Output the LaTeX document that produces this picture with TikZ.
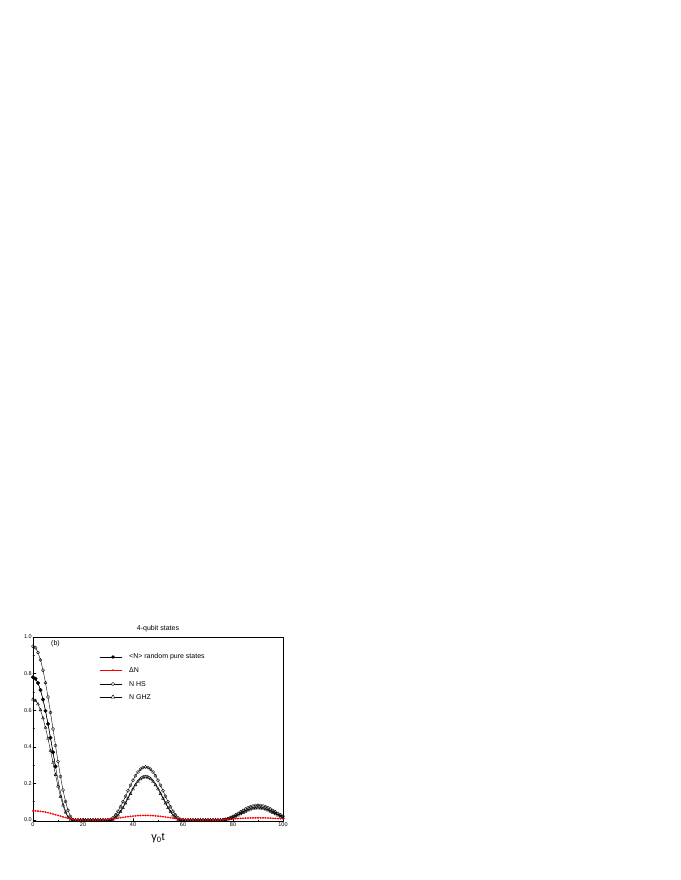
\documentclass[tikz,border=0pt]{standalone}
\usepackage{fontspec}
\setmainfont{Liberation Sans}
\usetikzlibrary{plotmarks,shapes.geometric}
\tikzset{
  declare function={bump(\t,\c,\h,\w)=(abs(\t-\c)<\w)*\h*cos(90*(\t-\c)/\w)^2;},
  curve/.style={line width=0.4pt},
  ticklab/.style={font=\fontsize{5.5}{6}\selectfont, inner sep=1pt},
  leglab/.style={font=\fontsize{7}{8}\selectfont, anchor=west, inner sep=0pt}
}
\begin{document}
\begin{tikzpicture}[x=1pt,y=1pt,line cap=round,line join=round]
\useasboundingbox (0,0) rectangle (680,880);
% plot area: t in [0,100] -> 33..283, N in [-0.008,1] -> 58.5..243
\begin{scope}[shift={(33,60)},x=2.5pt,y=183pt]
\draw[line width=0.5pt] (0,-0.008) rectangle (100,1);
% ticks
\foreach \xt in {0,20,...,100} {
  \draw (\xt,-0.008) -- ++(0,3pt);
  \node[ticklab,below] at (\xt,-0.008) {\xt};
}
\foreach \xt in {10,30,...,90} \draw (\xt,-0.008) -- ++(0,1.5pt);
\foreach \yt/\lab in {0/0.0,0.2/0.2,0.4/0.4,0.6/0.6,0.8/0.8,1/1.0} {
  \draw (0,\yt) -- ++(3pt,0);
  \node[ticklab,left] at (0,\yt) {\lab};
}
\foreach \yt in {0.1,0.3,0.5,0.7,0.9} \draw (0,\yt) -- ++(1.5pt,0);
% curves
\draw[curve,mark=o,mark size=1.6pt,mark options={fill=white}] plot[domain=0:100,samples=101]
  (\x,{bump(\x,0,0.95,16.5)+bump(\x,45,0.29,15)+bump(\x,90,0.08,15)});
\draw[curve,mark=triangle,mark size=1.7pt,mark options={fill=white}] plot[domain=0:100,samples=101]
  (\x,{bump(\x,0,0.66,15.5)+bump(\x,45,0.235,14)+bump(\x,90,0.065,14)});
\draw[curve,mark=*,mark size=1.8pt] plot[domain=0:9,samples=10]
  (\x,{bump(\x,0,0.78,15.5)});
\draw[curve] plot[domain=0:100,samples=101]
  (\x,{bump(\x,0,0.78,15.5)+bump(\x,45,0.245,14)+bump(\x,90,0.07,14)});
\draw[curve,red,mark=*,mark size=0.7pt] plot[domain=0:100,samples=101]
  (\x,{bump(\x,0,0.05,20)+bump(\x,45,0.025,20)+bump(\x,90,0.012,20)});
\node[ticklab,font=\fontsize{7}{8}\selectfont] (tag) at (9,0.965) {(b)};
\end{scope}
% title and axis label
\node[font=\fontsize{7}{8}\selectfont] (title) at (158,251) {4-qubit states};
\node[font=\fontsize{11}{12}\selectfont] (xlab) at (158,42) {γ\textsubscript{0}t};
% legend
\foreach \yy/\col in {223/black,210/red,196/black,183/black}
  \draw[curve,\col] (100,\yy) -- (122,\yy);
\node[circle,fill=black,inner sep=0pt,minimum size=3.6pt] (m1) at (113,223) {};
\node[circle,fill=red,inner sep=0pt,minimum size=1.6pt] (m2) at (113,210) {};
\node[circle,draw,fill=white,inner sep=0pt,minimum size=3.4pt] (m3) at (113,196) {};
\node[regular polygon,regular polygon sides=3,draw,fill=white,inner sep=0pt,minimum size=4.5pt] (m4) at (113,183) {};
\node[leglab] (l1) at (129,223) {<N> random pure states};
\node[leglab] (l2) at (129,210) {ΔN};
\node[leglab] (l3) at (129,196) {N HS};
\node[leglab] (l4) at (129,183) {N GHZ};
\end{tikzpicture}
\end{document}
